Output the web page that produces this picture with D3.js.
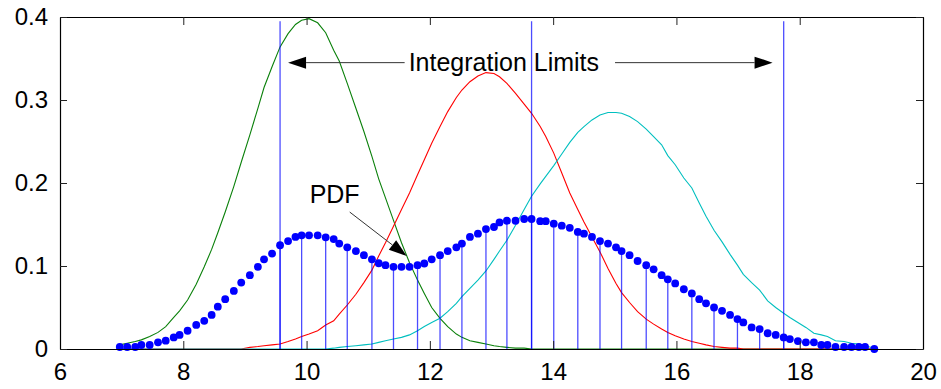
<!DOCTYPE html>
<html>
<head>
<meta charset="utf-8">
<script src="https://cdn.jsdelivr.net/npm/d3@7"></script>
<style>
  body { margin: 0; background: #fff; }
  svg { display: block; font-family: "Liberation Sans", Arial, Helvetica, sans-serif; }
</style>
</head>
<body>
<svg id="chart" width="941" height="389"></svg>
<script>
// Sample points shared by every curve
const sampleX = [
  6.97, 7.09, 7.22, 7.32, 7.455, 7.59, 7.715, 7.845, 7.94, 8.07,
  8.21, 8.34, 8.46, 8.56, 8.68, 8.82, 8.94, 9.08, 9.21, 9.31,
  9.44, 9.57, 9.70, 9.82, 9.92, 10.04, 10.18, 10.31, 10.44, 10.53,
  10.66, 10.80, 10.93, 11.06, 11.17, 11.28, 11.41, 11.54, 11.67, 11.80,
  11.91, 12.03, 12.165, 12.29, 12.43, 12.52, 12.65, 12.78, 12.91, 13.04,
  13.13, 13.25, 13.39, 13.53, 13.65, 13.79, 13.88, 14.01, 14.14, 14.27,
  14.40, 14.50, 14.63, 14.76, 14.89, 15.02, 15.11, 15.24, 15.37, 15.51,
  15.63, 15.76, 15.86, 15.98, 16.12, 16.25, 16.37, 16.48, 16.61, 16.74,
  16.87, 16.99, 17.085, 17.22, 17.35, 17.48, 17.61, 17.74, 17.84, 17.97,
  18.10, 18.23, 18.35, 18.45, 18.58, 18.72, 18.84, 18.96, 19.06, 19.21
];

// Mixture density (blue dots)
const pdfValues = [
  0.0024, 0.0024, 0.0024, 0.0048, 0.0048, 0.008, 0.010, 0.014, 0.017, 0.022,
  0.029, 0.034, 0.041, 0.051, 0.060, 0.070, 0.080, 0.089, 0.099, 0.108,
  0.115, 0.125, 0.130, 0.135, 0.137, 0.137, 0.137, 0.1345, 0.1325, 0.127,
  0.1225, 0.118, 0.113, 0.108, 0.1033, 0.101, 0.099, 0.099, 0.099, 0.101,
  0.103, 0.108, 0.113, 0.118, 0.1225, 0.127, 0.135, 0.139, 0.1445, 0.147,
  0.1525, 0.1545, 0.1545, 0.1566, 0.1566, 0.154, 0.154, 0.151, 0.1486, 0.146,
  0.141, 0.139, 0.135, 0.130, 0.127, 0.1225, 0.118, 0.113, 0.106, 0.101,
  0.096, 0.089, 0.084, 0.079, 0.072, 0.067, 0.060, 0.055, 0.050, 0.046,
  0.041, 0.036, 0.032, 0.026, 0.024, 0.019, 0.017, 0.014, 0.012, 0.0096,
  0.008, 0.008, 0.0048, 0.0048, 0.0024, 0.0024, 0.0024, 0.0024, 0.0024, 0.0
];

// Component densities
const greenValues = [
  0.005, 0.007, 0.009, 0.011, 0.015, 0.020, 0.027, 0.038, 0.046, 0.059,
  0.078, 0.099, 0.120, 0.140, 0.165, 0.196, 0.225, 0.258, 0.290, 0.315,
  0.340, 0.364, 0.380, 0.391, 0.396, 0.398, 0.393, 0.381, 0.360, 0.347,
  0.320, 0.290, 0.262, 0.232, 0.205, 0.182, 0.155, 0.128, 0.104, 0.083,
  0.067, 0.050, 0.037, 0.027, 0.018, 0.014, 0.010, 0.008, 0.006, 0.004,
  0.003, 0.002, 0.001, 0.001, 0, 0, 0, 0, 0, 0,
  0, 0, 0, 0, 0, 0, 0, 0, 0, 0,
  0, 0, 0, 0, 0, 0, 0, 0, 0, 0,
  0, 0, 0, 0, 0, 0, 0, 0, 0, 0,
  0, 0, 0, 0, 0, 0, 0, 0, 0, 0
];

const redValues = [
  0, 0, 0, 0, 0, 0, 0, 0, 0, 0,
  0, 0, 0, 0, 0, 0, 0, 0.002, 0.003, 0.004,
  0.005, 0.006, 0.009, 0.012, 0.015, 0.018, 0.022, 0.029, 0.034, 0.042,
  0.053, 0.066, 0.080, 0.095, 0.112, 0.128, 0.148, 0.168, 0.188, 0.210,
  0.228, 0.248, 0.268, 0.286, 0.303, 0.312, 0.322, 0.329, 0.333, 0.332,
  0.328, 0.320, 0.308, 0.295, 0.284, 0.268, 0.256, 0.236, 0.212, 0.188,
  0.168, 0.153, 0.135, 0.117, 0.097, 0.079, 0.068, 0.056, 0.045, 0.036,
  0.030, 0.024, 0.020, 0.016, 0.012, 0.009, 0.007, 0.005, 0.003, 0.002,
  0.001, 0.001, 0, 0, 0, 0, 0, 0, 0, 0,
  0, 0, 0, 0, 0, 0, 0, 0, 0, 0
];

const cyanValues = [
  0, 0, 0, 0, 0, 0, 0, 0, 0, 0,
  0, 0, 0, 0, 0, 0, 0, 0, 0, 0,
  0, 0, 0, 0, 0, 0, 0, 0, 0.001, 0.002,
  0.003, 0.004, 0.005, 0.006, 0.008, 0.010, 0.012, 0.014, 0.017, 0.022,
  0.027, 0.032, 0.037, 0.045, 0.055, 0.063, 0.073, 0.083, 0.094, 0.108,
  0.118, 0.131, 0.149, 0.168, 0.184, 0.199, 0.208, 0.221, 0.235, 0.249,
  0.261, 0.268, 0.276, 0.282, 0.285, 0.285, 0.284, 0.280, 0.274, 0.265,
  0.256, 0.246, 0.233, 0.222, 0.206, 0.194, 0.176, 0.160, 0.143, 0.129,
  0.114, 0.101, 0.090, 0.080, 0.071, 0.058, 0.050, 0.043, 0.038, 0.032,
  0.026, 0.019, 0.017, 0.015, 0.010, 0.009, 0.007, 0.006, 0.004, 0.001
];

// Quadrature nodes drawn as stems, and the integration limits
const stemX = [
  9.57, 9.92, 10.31, 10.66, 11.06, 11.41, 11.80, 12.165, 12.52, 12.91, 13.25, 13.65,
  14.01, 14.40, 14.76, 15.11, 15.51, 15.86, 16.25, 16.61, 16.99, 17.35, 17.74
];
const limitX = [9.57, 13.65, 17.74];

const xTicks = [6, 8, 10, 12, 14, 16, 18, 20];
const xTickLabels = ["6", "8", "10", "12", "14", "16", "18", "20"];
const yTicks = [0, 0.1, 0.2, 0.3, 0.4];
const yTickLabels = ["0", "0.1", "0.2", "0.3", "0.4"];
const limitsLabel = "Integration Limits";
const pdfLabel = "PDF";

// ---------------------------------------------------------------
const svg = d3.select("#chart");
const margin = { left: 60, right: 18, top: 17, bottom: 40 };
const W = 941, H = 389;
const x = d3.scaleLinear().domain([6, 20]).range([margin.left, W - margin.right]);
const y = d3.scaleLinear().domain([0, 0.4]).range([H - margin.bottom, margin.top]);

const FONT = 24;

// Component curves (drawn green, red, cyan in that order)
const series = [
  { values: greenValues, color: "#0a800a" },
  { values: redValues, color: "#ff0000" },
  { values: cyanValues, color: "#00bfbf" }
];
const line = d3.line().x(d => x(d[0])).y(d => y(d[1]));
svg.append("g").selectAll("path")
  .data(series)
  .join("path")
  .attr("d", s => line(sampleX.map((v, i) => [v, s.values[i]])))
  .attr("fill", "none")
  .attr("stroke", s => s.color)
  .attr("stroke-width", 1.1);

// Stems at quadrature nodes
const pdfAt = v => pdfValues[sampleX.indexOf(v)];
svg.append("g").selectAll("line")
  .data(stemX)
  .join("line")
  .attr("x1", d => x(d)).attr("x2", d => x(d))
  .attr("y1", y(0)).attr("y2", d => y(pdfAt(d)))
  .attr("stroke", "#0000ff")
  .attr("stroke-opacity", 0.7)
  .attr("stroke-width", 1.3);

// Integration limit lines
svg.append("g").selectAll("line")
  .data(limitX)
  .join("line")
  .attr("x1", d => x(d)).attr("x2", d => x(d))
  .attr("y1", y(0)).attr("y2", y(0.395))
  .attr("stroke", "#0000ff")
  .attr("stroke-opacity", 0.7)
  .attr("stroke-width", 1.3);

// PDF sample dots
svg.append("g").selectAll("circle")
  .data(sampleX)
  .join("circle")
  .attr("cx", d => x(d))
  .attr("cy", (d, i) => y(pdfValues[i]))
  .attr("r", 3.9)
  .attr("fill", "#0000ff");

// Axes box
const plot = svg.append("g");
const xAxisB = d3.axisBottom(x).tickValues(xTicks).tickFormat((d, i) => xTickLabels[i])
  .tickSizeInner(-8).tickSizeOuter(0).tickPadding(14);
const xAxisT = d3.axisTop(x).tickValues(xTicks).tickFormat("")
  .tickSizeInner(-8).tickSizeOuter(0);
const yAxisL = d3.axisLeft(y).tickValues(yTicks).tickFormat((d, i) => yTickLabels[i])
  .tickSizeInner(-7).tickSizeOuter(0).tickPadding(12);
const yAxisR = d3.axisRight(y).tickValues(yTicks).tickFormat("")
  .tickSizeInner(-7).tickSizeOuter(0);

function styleAxis(g) {
  g.select(".domain").attr("stroke", "#000").attr("stroke-width", 1.2);
  g.selectAll(".tick line").attr("stroke", "#222").attr("stroke-width", 1);
  g.selectAll(".tick text").attr("fill", "#000")
    .style("font-family", '"Liberation Sans", Arial, sans-serif')
    .style("font-size", FONT + "px");
}
plot.append("g").attr("transform", `translate(0,${y(0)})`).call(xAxisB).call(styleAxis);
plot.append("g").attr("transform", `translate(0,${y(0.4)})`).call(xAxisT).call(styleAxis);
plot.append("g").attr("transform", `translate(${x(6)},0)`).call(yAxisL).call(styleAxis);
plot.append("g").attr("transform", `translate(${x(20)},0)`).call(yAxisR).call(styleAxis);

// Annotations
const ann = svg.append("g");
function arrow(x0, y0, x1, y1) {
  // line from (x0,y0) to the tip (x1,y1), filled triangular head at the tip
  const dx = x1 - x0, dy = y1 - y0, len = Math.hypot(dx, dy);
  const ux = dx / len, uy = dy / len;
  const headL = 18, headW = 6;
  const bx = x1 - ux * headL, by = y1 - uy * headL;
  ann.append("line")
    .attr("x1", x0).attr("y1", y0).attr("x2", bx).attr("y2", by)
    .attr("stroke", "#333").attr("stroke-width", 1);
  ann.append("polygon")
    .attr("points", [
      [x1, y1],
      [bx - uy * headW, by + ux * headW],
      [bx + uy * headW, by - ux * headW]
    ].map(p => p.join(",")).join(" "))
    .attr("fill", "#000");
}

const limY = y(0.345);
const labelX = x(13.2);
const lab = ann.append("text")
  .attr("x", labelX).attr("y", limY)
  .attr("dy", "0.35em")
  .attr("text-anchor", "middle")
  .style("font-size", FONT + 1 + "px")
  .attr("fill", "#000")
  .text(limitsLabel);
const bb = lab.node().getBBox();
arrow(bb.x - 4, limY, x(9.7), limY);
arrow(bb.x + bb.width + 16, limY, x(17.56), limY);

ann.append("text")
  .attr("x", x(10.05)).attr("y", y(0.176))
  .style("font-size", FONT + 1 + "px")
  .attr("fill", "#000")
  .text(pdfLabel);
arrow(x(10.70), y(0.165), x(11.625), y(0.112));
</script>
</body>
</html>
